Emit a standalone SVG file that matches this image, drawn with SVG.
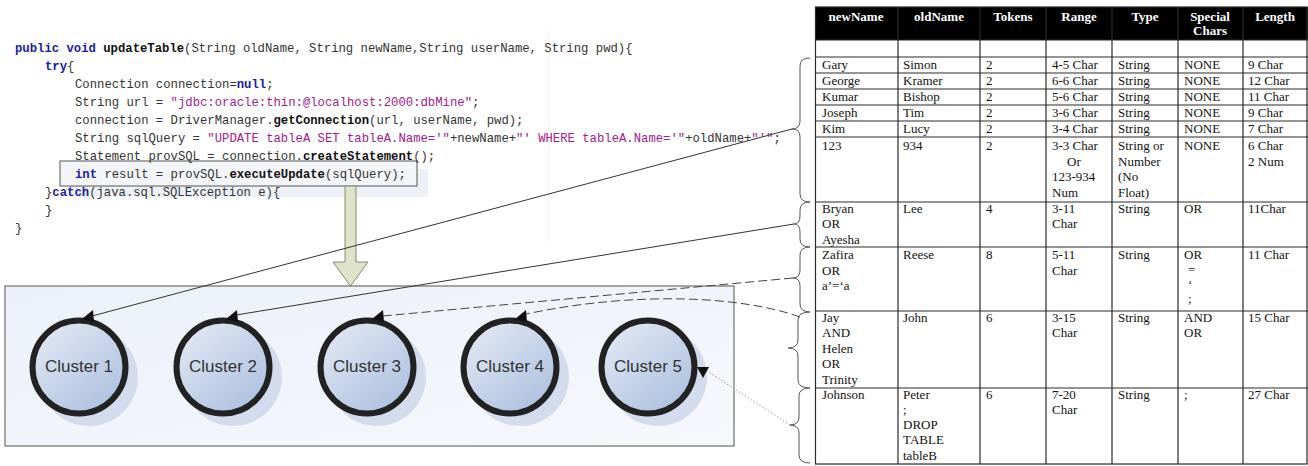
<svg xmlns="http://www.w3.org/2000/svg" width="1308" height="466" viewBox="0 0 1308 466">
<defs>
<linearGradient id="panelG" x1="0" y1="0" x2="1" y2="1">
<stop offset="0" stop-color="#ecf0f8"/>
<stop offset="1" stop-color="#f6f8fc"/>
</linearGradient>
<linearGradient id="circG" x1="0.15" y1="0.1" x2="0.85" y2="0.95">
<stop offset="0" stop-color="#dfe6f3"/>
<stop offset="1" stop-color="#acc0de"/>
</linearGradient>
<style>
.code{font-family:"Liberation Mono",monospace;font-size:12.25px;fill:#333}
.kw{fill:#1c1ca0;font-weight:bold}
.st{fill:#a3208c}
.b{font-weight:bold;fill:#111}
.circ{fill:url(#circG);stroke:#222;stroke-width:6}
.shad{fill:#d3dcec}
.clab{font-family:"Liberation Sans",Arial,sans-serif;font-size:17px;fill:#333;text-anchor:middle}
.ah{fill:#111}
.th{font-family:"Liberation Serif","Times New Roman",serif;font-size:13px;font-weight:bold;fill:#fff;text-anchor:middle}
.td{font-family:"Liberation Serif","Times New Roman",serif;font-size:13px;fill:#111}
.grid{stroke:#2a2a2a;stroke-width:1.2;fill:none}
.brace{stroke:#555;stroke-width:1;fill:none}
.con{stroke:#333;stroke-width:1;fill:none}
.dash{stroke:#444;stroke-width:1;fill:none;stroke-dasharray:9,4}
.dot{stroke:#999;stroke-width:1;fill:none;stroke-dasharray:1.5,2}
</style>
</defs>
<rect x="0" y="0" width="1308" height="466" fill="#fff"/>

<g id="code">
<line x1="549" y1="30" x2="549" y2="242" stroke="#ededed" stroke-width="1"/>
<rect x="69" y="169" width="359" height="28" fill="#edf1f7"/>
<rect x="60" y="161" width="357" height="25" fill="#f3f5f9" stroke="#555" stroke-width="1"/>
<g class="code" xml:space="preserve">
<text x="15" y="52"><tspan class="kw">public void</tspan> <tspan class="b">updateTable</tspan>(String oldName, String newName,String userName, String pwd){</text>
<text x="45" y="70"><tspan class="kw">try</tspan>{</text>
<text x="75" y="88">Connection connection=<tspan class="kw">null</tspan>;</text>
<text x="75" y="106">String url = <tspan class="st">"jdbc:oracle:thin:@localhost:2000:dbMine"</tspan>;</text>
<text x="75" y="124">connection = DriverManager.<tspan class="b">getConnection</tspan>(url, userName, pwd);</text>
<text x="75" y="142">String sqlQuery = <tspan class="st">"UPDATE tableA SET tableA.Name='"</tspan>+newName+<tspan class="st">"' WHERE tableA.Name='"</tspan>+oldName+<tspan class="st">"'"</tspan>;</text>
<text x="75" y="160">Statement provSQL = connection.<tspan class="b">createStatement</tspan>();</text>
<text x="75" y="178"><tspan class="kw">int</tspan> result = provSQL.<tspan class="b">executeUpdate</tspan>(sqlQuery);</text>
<text x="45" y="196">}<tspan class="kw">catch</tspan>(java.sql.SQLException e){</text>
<text x="45" y="214">}</text>
<text x="15" y="232">}</text>
</g>
</g>

<g id="flow-arrow">
<polygon points="345,186 356,186 356,262 368,262 350.5,286 333,262 345,262" fill="#dfe3ca" stroke="#8a8a76" stroke-width="1"/>
</g>

<g id="cluster-panel">
<rect x="5" y="286" width="729" height="160" fill="url(#panelG)" stroke="#6e6e6e" stroke-width="1.2"/>
</g>

<g id="cluster1">
<circle cx="89" cy="377" r="49" class="shad"/>
<circle cx="79" cy="367" r="46.5" class="circ"/>
<polygon class="ah" points="82,319 93,310 94,322"/>
<text x="79" y="372" class="clab">Cluster 1</text>
</g>
<g id="cluster2">
<circle cx="233" cy="377" r="49" class="shad"/>
<circle cx="223" cy="367" r="46.5" class="circ"/>
<polygon class="ah" points="226,319 237,310 238,322"/>
<text x="223" y="372" class="clab">Cluster 2</text>
</g>
<g id="cluster3">
<circle cx="377" cy="377" r="49" class="shad"/>
<circle cx="367" cy="367" r="46.5" class="circ"/>
<polygon class="ah" points="372,319 383,310 384,322"/>
<text x="367" y="372" class="clab">Cluster 3</text>
</g>
<g id="cluster4">
<circle cx="520" cy="377" r="49" class="shad"/>
<circle cx="510" cy="367" r="46.5" class="circ"/>
<polygon class="ah" points="515,319 526,310 527,322"/>
<text x="510" y="372" class="clab">Cluster 4</text>
</g>
<g id="cluster5">
<circle cx="658" cy="377" r="49" class="shad"/>
<circle cx="648" cy="367" r="46.5" class="circ"/>
<polygon class="ah" points="697,367 709,367 703,378"/>
<text x="648" y="372" class="clab">Cluster 5</text>
</g>

<g id="table">
<rect x="815" y="7" width="493" height="33" fill="#000"/>
<g class="th">
<text x="856" y="21">newName</text>
<text x="939" y="21">oldName</text>
<text x="1013" y="21">Tokens</text>
<text x="1079" y="21">Range</text>
<text x="1145" y="21">Type</text>
<text x="1210" y="21">Special</text>
<text x="1210" y="35">Chars</text>
<text x="1275" y="21">Length</text>
</g>
<g class="grid">
<rect x="815.5" y="7" width="491.5" height="457"/>
<path d="M898,7V464M980,7V464M1046,7V464M1112,7V464M1178,7V464M1243,7V464"/>
<path d="M815,40H1308M815,57H1308M815,73H1308M815,89H1308M815,105H1308M815,121H1308M815,137H1308M815,202H1308M815,247H1308M815,311H1308M815,388H1308"/>
</g>
<g class="td">
<text x="822" y="69">Gary</text><text x="903" y="69">Simon</text><text x="986" y="69">2</text><text x="1052" y="69">4-5 Char</text><text x="1118" y="69">String</text><text x="1184" y="69">NONE</text><text x="1248" y="69">9 Char</text>
<text x="822" y="85">George</text><text x="903" y="85">Kramer</text><text x="986" y="85">2</text><text x="1052" y="85">6-6 Char</text><text x="1118" y="85">String</text><text x="1184" y="85">NONE</text><text x="1248" y="85">12 Char</text>
<text x="822" y="101">Kumar</text><text x="903" y="101">Bishop</text><text x="986" y="101">2</text><text x="1052" y="101">5-6 Char</text><text x="1118" y="101">String</text><text x="1184" y="101">NONE</text><text x="1248" y="101">11 Char</text>
<text x="822" y="117">Joseph</text><text x="903" y="117">Tim</text><text x="986" y="117">2</text><text x="1052" y="117">3-6 Char</text><text x="1118" y="117">String</text><text x="1184" y="117">NONE</text><text x="1248" y="117">9 Char</text>
<text x="822" y="133">Kim</text><text x="903" y="133">Lucy</text><text x="986" y="133">2</text><text x="1052" y="133">3-4 Char</text><text x="1118" y="133">String</text><text x="1184" y="133">NONE</text><text x="1248" y="133">7 Char</text>
<text x="822" y="150">123</text><text x="903" y="150">934</text><text x="986" y="150">2</text>
<text x="1052" y="150">3-3 Char</text><text x="1067" y="166">Or</text><text x="1052" y="181">123-934</text><text x="1052" y="197">Num</text>
<text x="1118" y="150">String or</text><text x="1118" y="166">Number</text><text x="1118" y="181">(No</text><text x="1118" y="197">Float)</text>
<text x="1184" y="150">NONE</text><text x="1248" y="150">6 Char</text><text x="1248" y="166">2 Num</text>
<text x="822" y="213">Bryan</text><text x="822" y="228">OR</text><text x="822" y="244">Ayesha</text>
<text x="903" y="213">Lee</text><text x="986" y="213">4</text><text x="1052" y="213">3-11</text><text x="1052" y="228">Char</text><text x="1118" y="213">String</text><text x="1184" y="213">OR</text><text x="1248" y="213">11Char</text>
<text x="822" y="259">Zafira</text><text x="822" y="275">OR</text><text x="822" y="290">a’=‘a</text>
<text x="903" y="259">Reese</text><text x="986" y="259">8</text><text x="1052" y="259">5-11</text><text x="1052" y="275">Char</text><text x="1118" y="259">String</text>
<text x="1184" y="259">OR</text><text x="1188" y="274">=</text><text x="1188" y="289">‘</text><text x="1188" y="303">;</text>
<text x="1248" y="259">11 Char</text>
<text x="822" y="322">Jay</text><text x="822" y="337">AND</text><text x="822" y="353">Helen</text><text x="822" y="368">OR</text><text x="822" y="384">Trinity</text>
<text x="903" y="322">John</text><text x="986" y="322">6</text><text x="1052" y="322">3-15</text><text x="1052" y="337">Char</text><text x="1118" y="322">String</text><text x="1184" y="322">AND</text><text x="1184" y="337">OR</text><text x="1248" y="322">15 Char</text>
<text x="822" y="399">Johnson</text>
<text x="903" y="399">Peter</text><text x="903" y="414">;</text><text x="903" y="429">DROP</text><text x="903" y="444">TABLE</text><text x="903" y="460">tableB</text>
<text x="986" y="399">6</text><text x="1052" y="399">7-20</text><text x="1052" y="414">Char</text><text x="1118" y="399">String</text><text x="1184" y="399">;</text><text x="1248" y="399">27 Char</text>
</g>
</g>

<g id="braces">
<path class="brace" d="M810,58 Q800,58 800,66 L800,121 Q800,129 792,129 Q800,129 800,137 L800,194 Q800,202 810,202"/>
<path class="brace" d="M810,202 Q800,202 800,210 L800,216 Q800,224 794,224 Q800,224 800,232 L800,239 Q800,247 810,247"/>
<path class="brace" d="M810,247 Q800,247 800,255 L800,270 Q800,278 793,278 Q800,278 800,286 L800,304 Q800,312 810,312"/>
<path class="brace" d="M810,312 Q798,312 798,320 L798,340 Q798,348 788,348 Q798,348 798,356 L798,380 Q798,388 810,388"/>
<path class="brace" d="M810,388 Q799,388 799,396 L799,417 Q799,425 790,425 Q799,425 799,433 L799,455 Q799,463 810,463"/>
</g>

<g id="connectors">
<line class="con" x1="792" y1="129" x2="92" y2="316"/>
<line class="con" x1="794" y1="224" x2="236" y2="315"/>
<line class="dash" x1="793" y1="278" x2="383" y2="316"/>
<path class="dash" d="M800,317 C745,297 640,290 526,314"/>
<line class="dot" x1="790" y1="425" x2="707" y2="371"/>
</g>
</svg>
